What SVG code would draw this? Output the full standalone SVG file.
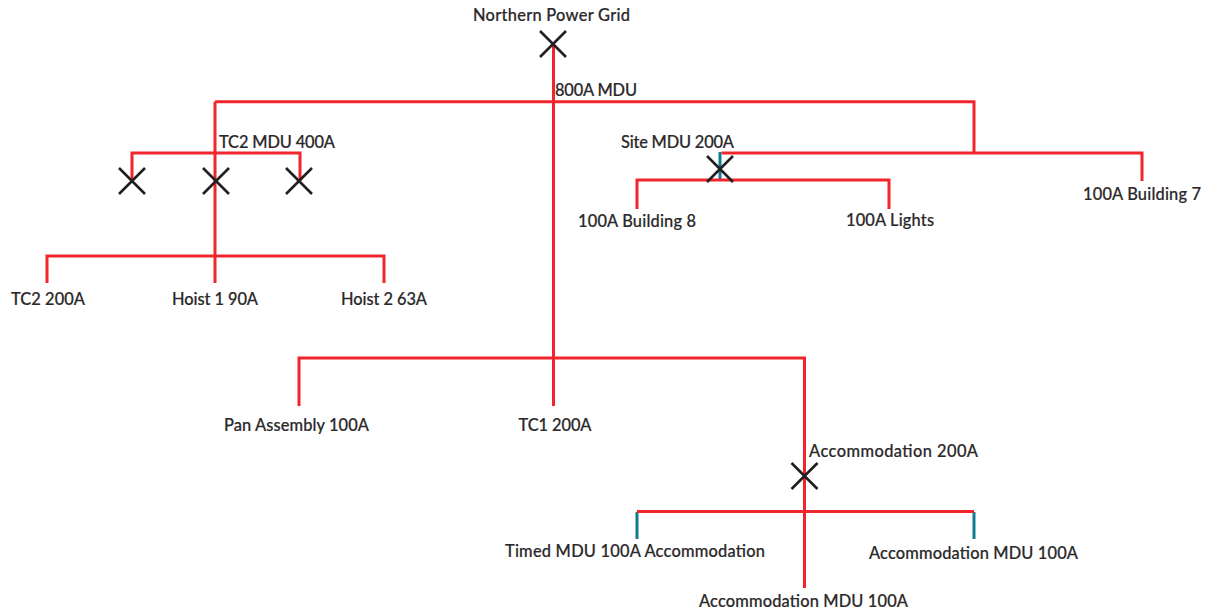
<svg xmlns="http://www.w3.org/2000/svg" width="1211" height="612" viewBox="0 0 1211 612">
<style>
.w{fill:none;stroke:#f1252c;stroke-width:3}
.t{fill:none;stroke:#0f7c90;stroke-width:3}
.x{fill:none;stroke:#231f20;stroke-width:2.6}
text{font-family:"Lato","Noto Sans",sans-serif;font-size:16.4px;font-weight:500;fill:#2b2829;text-anchor:middle;stroke:#2b2829;stroke-width:.2}
</style>
<defs><g id="brk"><path class="x" d="M-13-13L13 13M13-13L-13 13"/></g></defs>
<g id="connectors">
<path class="t" d="M720 152V180M637 512V539M974 512V539"/>
<path class="w" d="M553.500 44V406M215 101.700H974V153M215 101.700V283M132 181V153H300V181M47 283V256H384V283M721.500 153H1142V181M637 209V180H889V209M299 406V358H804.500V588M637 511.500H974"/>
</g>
<g id="n1"><text x="551.500" y="20.500" textLength="157">Northern Power Grid</text><use href="#brk" x="553" y="44"/></g>
<g id="n2"><text x="596" y="95.500" textLength="82">800A MDU</text></g>
<g id="n3"><text x="277" y="147.500" textLength="116">TC2 MDU 400A</text></g>
<g id="n4"><use href="#brk" x="132" y="181"/></g>
<g id="n5"><use href="#brk" x="216" y="181"/></g>
<g id="n6"><use href="#brk" x="299" y="181"/></g>
<g id="n7"><text x="677.500" y="147.500" textLength="113">Site MDU 200A</text><use href="#brk" x="720" y="169"/></g>
<g id="n8"><text x="637" y="226.500" textLength="118">100A Building 8</text></g>
<g id="n9"><text x="890" y="225.500" textLength="88">100A Lights</text></g>
<g id="n10"><text x="1142" y="199.500" textLength="118">100A Building 7</text></g>
<g id="n11"><text x="48" y="304.500" textLength="74">TC2 200A</text></g>
<g id="n12"><text x="215" y="304.500" textLength="86">Hoist 1 90A</text></g>
<g id="n13"><text x="384" y="304.500" textLength="86">Hoist 2 63A</text></g>
<g id="n14"><text x="296.500" y="430.500" textLength="145">Pan Assembly 100A</text></g>
<g id="n15"><text x="555" y="430.500" textLength="73">TC1 200A</text></g>
<g id="n16"><text x="893.500" y="456.500" textLength="169">Accommodation 200A</text><use href="#brk" x="804.500" y="476"/></g>
<g id="n17"><text x="635" y="556.500" textLength="260">Timed MDU 100A Accommodation</text></g>
<g id="n18"><text x="973.500" y="558.500" textLength="209">Accommodation MDU 100A</text></g>
<g id="n19"><text x="803.500" y="606.500" textLength="209">Accommodation MDU 100A</text></g>
</svg>
